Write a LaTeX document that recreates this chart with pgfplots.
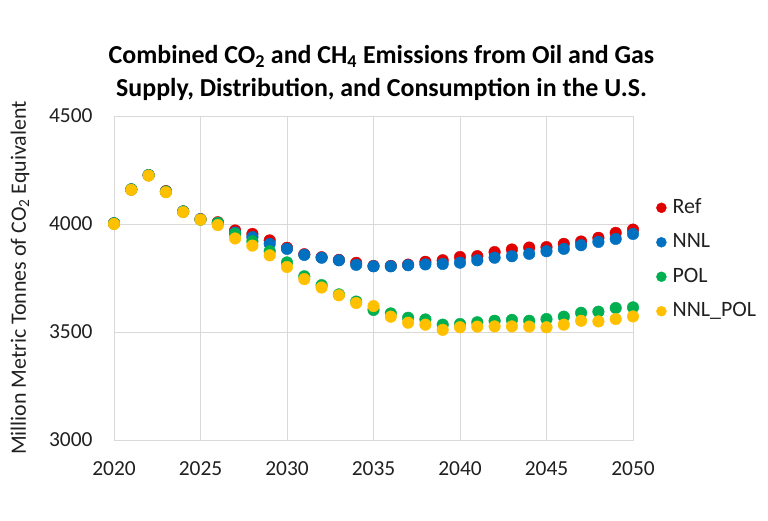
\documentclass[border=0pt]{standalone}
\usepackage{pgfplots}
\pgfplotsset{compat=1.18}
\usepackage{fontspec}
\setmainfont{Carlito}
\definecolor{cref}{HTML}{E00000}
\definecolor{cnnl}{HTML}{0070C0}
\definecolor{cpol}{HTML}{00B050}
\definecolor{cnp}{HTML}{FFC000}
\definecolor{gridc}{HTML}{D9D9D9}
\definecolor{txt}{HTML}{202020}
\begin{document}
\begin{tikzpicture}
\path[use as bounding box] (-114bp,-81bp) rectangle (654bp,440bp);
\begin{axis}[
  at={(0,0)}, anchor=south west,
  scale only axis, width=519bp, height=324bp,
  xmin=2020, xmax=2050, ymin=3000, ymax=4500,
  xtick={2020,2025,...,2050}, ytick={3000,3500,4000,4500},
  /pgf/number format/1000 sep={},
  /pgf/number format/assume math mode=true,
  tick label style={font=\fontsize{21.5}{24}\selectfont, text=txt},
  xticklabel style={yshift=-18bp},
  yticklabel style={xshift=-18bp},
  major tick length=0pt,
  grid=major, grid style={gridc, line width=0.8pt},
  axis line style={gridc, line width=0.8pt},
  clip=false,
  ylabel={Million Metric Tonnes of CO\textsubscript{2} Equivalent},
  ylabel style={at={(axis description cs:-0.181,0.5)}, anchor=center, font=\fontsize{22}{24}\selectfont, text=txt},
  title={Combined CO\textsubscript{2} and CH\textsubscript{4} Emissions from Oil and Gas\\Supply, Distribution, and Consumption in the U.S.},
  title style={at={(axis description cs:0.5,1)}, anchor=south, yshift=6bp, align=center, xshift=8bp, font=\bfseries\fontsize{26}{33}\selectfont},
  legend style={at={(axis description cs:1.0,0.557)}, anchor=west, xshift=23bp, draw=none, fill=none, inner sep=0pt, font=\fontsize{22}{24}\selectfont, row sep=9.5bp, text=txt, nodes={text height=16bp, text depth=5bp}},
  legend image code/.code={\fill (0bp,0bp) circle (5bp); \path (9bp,0bp);},
  legend cell align=left,
  every axis plot/.append style={only marks, mark=*, mark size=5.8bp},
]
\addplot[cref, mark options={fill=cref, draw=cref}] coordinates {
(2020,4003)(2021,4160)(2022,4226)(2023,4152)(2024,4058)(2025,4022)(2026,4008)(2027,3970)(2028,3954)(2029,3924)(2030,3890)(2031,3860)(2032,3846)(2033,3834)(2034,3820)(2035,3806)(2036,3806)(2037,3812)(2038,3825)(2039,3832)(2040,3847)(2041,3851)(2042,3870)(2043,3882)(2044,3891)(2045,3893)(2046,3908)(2047,3919)(2048,3936)(2049,3959)(2050,3974)};
\addlegendentry{Ref}
\addplot[cnnl, mark options={fill=cnnl, draw=cnnl}] coordinates {
(2020,4003)(2021,4160)(2022,4226)(2023,4150)(2024,4058)(2025,4022)(2026,4005)(2027,3960)(2028,3939)(2029,3908)(2030,3885)(2031,3857)(2032,3844)(2033,3832)(2034,3811)(2035,3804)(2036,3804)(2037,3809)(2038,3813)(2039,3815)(2040,3821)(2041,3832)(2042,3844)(2043,3851)(2044,3862)(2045,3874)(2046,3885)(2047,3902)(2048,3917)(2049,3931)(2050,3954)};
\addlegendentry{NNL}
\addplot[cpol, mark options={fill=cpol, draw=cpol}] coordinates {
(2020,4003)(2021,4160)(2022,4226)(2023,4150)(2024,4058)(2025,4020)(2026,4005)(2027,3955)(2028,3920)(2029,3874)(2030,3822)(2031,3758)(2032,3717)(2033,3674)(2034,3641)(2035,3602)(2036,3586)(2037,3566)(2038,3558)(2039,3534)(2040,3537)(2041,3545)(2042,3552)(2043,3556)(2044,3552)(2045,3560)(2046,3571)(2047,3589)(2048,3594)(2049,3611)(2050,3614)};
\addlegendentry{POL}
\addplot[cnp, mark options={fill=cnp, draw=cnp}] coordinates {
(2020,4000)(2021,4158)(2022,4224)(2023,4147)(2024,4055)(2025,4020)(2026,3995)(2027,3933)(2028,3900)(2029,3855)(2030,3801)(2031,3745)(2032,3706)(2033,3670)(2034,3634)(2035,3620)(2036,3571)(2037,3543)(2038,3534)(2039,3510)(2040,3522)(2041,3525)(2042,3526)(2043,3526)(2044,3525)(2045,3522)(2046,3534)(2047,3552)(2048,3549)(2049,3560)(2050,3572)};
\addlegendentry{NNL\_POL}
\end{axis}
\end{tikzpicture}
\end{document}
